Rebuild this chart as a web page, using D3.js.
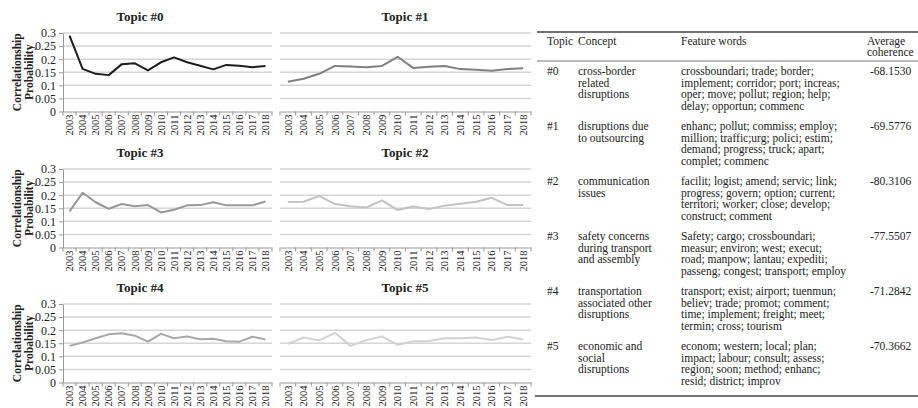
<!DOCTYPE html>
<html>
<head>
<meta charset="utf-8">
<script src="https://cdn.jsdelivr.net/npm/d3@7/dist/d3.min.js"></script>
<style>
  body { margin: 0; background: #fff; }
  svg { font-family: "Liberation Serif", "Times New Roman", serif; }
</style>
</head>
<body>
<svg id="chart" width="918" height="408"></svg>
<script>
// ---- data ----
var years = ["2003", "2004", "2005", "2006", "2007", "2008", "2009", "2010",
  "2011", "2012", "2013", "2014", "2015", "2016", "2017", "2018"]

var yTicks = [0, 0.05, 0.1, 0.15, 0.2, 0.25, 0.3]
var yTickLabels = ["0", "0.05", "0.1", "0.15", "0.2", "0.25", "0.3"]

var topic0 = [0.290, 0.163, 0.144, 0.139, 0.181, 0.184, 0.157, 0.188, 0.207, 0.188, 0.175, 0.161, 0.178, 0.175, 0.169, 0.174]
var topic1 = [0.114, 0.125, 0.144, 0.174, 0.172, 0.169, 0.174, 0.209, 0.166, 0.171, 0.174, 0.162, 0.160, 0.156, 0.162, 0.165]
var topic3 = [0.138, 0.209, 0.173, 0.148, 0.166, 0.158, 0.162, 0.134, 0.144, 0.161, 0.162, 0.173, 0.161, 0.161, 0.161, 0.176]
var topic2 = [0.174, 0.175, 0.197, 0.166, 0.158, 0.153, 0.180, 0.143, 0.157, 0.147, 0.160, 0.167, 0.175, 0.190, 0.162, 0.162]
var topic4 = [0.140, 0.153, 0.169, 0.184, 0.188, 0.179, 0.156, 0.186, 0.169, 0.176, 0.165, 0.167, 0.158, 0.156, 0.175, 0.164]
var topic5 = [0.147, 0.172, 0.161, 0.190, 0.140, 0.162, 0.176, 0.144, 0.158, 0.159, 0.169, 0.169, 0.172, 0.162, 0.175, 0.164]

var panelTitles = ["Topic #0", "Topic #1", "Topic #3", "Topic #2", "Topic #4", "Topic #5"]
var panelSeries = [topic0, topic1, topic3, topic2, topic4, topic5]
var lineColours = ["#1e1e1e", "#808080", "#999999", "#c3c3c3", "#a9a9a9", "#d2d2d2"]

var tableHeader = ["Topic", "Concept", "Feature words", "Average"]
var topicIds = ["#0", "#1", "#2", "#3", "#4", "#5"]
var concepts = [
  ["cross-border", "related", "disruptions"],
  ["disruptions due", "to outsourcing"],
  ["communication", "issues"],
  ["safety concerns", "during transport", "and assembly"],
  ["transportation", "associated other", "disruptions"],
  ["economic and", "social", "disruptions"]
]
var featureWords = [
  ["crossboundari; trade; border;", "implement; corridor; port; increas;", "oper; move; pollut; region; help;", "delay; opportun; commenc"],
  ["enhanc; pollut; commiss; employ;", "million; traffic;urg; polici; estim;", "demand; progress; truck; apart;", "complet; commenc"],
  ["facilit; logist; amend; servic; link;", "progress; govern; option; current;", "territori; worker; close; develop;", "construct; comment"],
  ["Safety; cargo; crossboundari;", "measur; environ; west; execut;", "road; manpow; lantau; expediti;", "passeng; congest; transport; employ"],
  ["transport; exist; airport; tuenmun;", "believ; trade; promot; comment;", "time; implement; freight; meet;", "termin; cross; tourism"],
  ["econom; western; local; plan;", "impact; labour; consult; assess;", "region; soon; method; enhanc;", "resid; district; improv"]
]
var coherence = ["-68.1530", "-69.5776", "-80.3106", "-77.5507", "-71.2842", "-70.3662"]

// ---- layout ----
var svg = d3.select("#chart")
var colX = [[63, 272], [280, 531]]
var colCentre = [140, 405]
var rowTop = [33, 169, 304]
var plotH = 78.5

panelSeries.forEach(function (values, i) {
  var col = i % 2
  var row = Math.floor(i / 2)
  var x0 = colX[col][0], x1 = colX[col][1]
  var top = rowTop[row]

  var x = d3.scaleBand().domain(years).range([x0, x1])
  var y = d3.scaleLinear().domain([0, 0.3]).range([top + plotH, top])

  var g = svg.append("g").attr("class", "panel")

  // gridlines
  g.selectAll(".grid")
    .data(yTicks.slice(1))
    .enter().append("line")
    .attr("class", "grid")
    .attr("x1", x0).attr("x2", x1)
    .attr("y1", d => y(d)).attr("y2", d => y(d))
    .attr("stroke", "#d6d6d6")
    .attr("stroke-width", 1.5)

  // title
  g.append("text")
    .attr("x", colCentre[col])
    .attr("y", top - 12)
    .attr("text-anchor", "middle")
    .style("font-size", "13px")
    .style("font-weight", "bold")
    .attr("fill", "#222")
    .text(panelTitles[i])

  // x axis
  var xAxis = d3.axisBottom(x).tickSize(0).tickSizeOuter(0).tickPadding(0)
  var xg = g.append("g")
    .attr("transform", "translate(0," + (top + plotH) + ")")
    .call(xAxis)
  xg.select(".domain").attr("stroke", "#9a9a9a").attr("stroke-width", 1)
  xg.selectAll("text")
    .attr("transform", "rotate(-90)")
    .attr("x", -3)
    .attr("y", 0)
    .attr("dy", "0.35em")
    .style("text-anchor", "end")
    .style("font-size", "10.5px")
    .style("font-family", "Liberation Serif, serif")
    .attr("fill", "#222")

  xg.selectAll(".btick")
    .data(d3.range(years.length + 1))
    .enter().append("line")
    .attr("class", "btick")
    .attr("x1", d => x0 + d * x.step())
    .attr("x2", d => x0 + d * x.step())
    .attr("y1", 0).attr("y2", 4)
    .attr("stroke", "#9a9a9a")

  // y axis on left column only
  if (col == 0) {
    var yAxis = d3.axisLeft(y).tickValues(yTicks).tickSize(4).tickSizeOuter(0).tickPadding(3)
      .tickFormat(function (d, k) { return yTickLabels[k] })
    var yg = g.append("g")
      .attr("transform", "translate(" + x0 + ",0)")
      .call(yAxis)
    yg.select(".domain").attr("stroke", "#9a9a9a")
    yg.selectAll(".tick line").attr("stroke", "#9a9a9a")
    yg.selectAll("text")
      .style("font-size", "12px")
      .style("font-family", "Liberation Serif, serif")
      .attr("fill", "#222")

    var lab = g.append("text")
      .attr("transform", "translate(0," + (top + plotH / 2) + ") rotate(-90)")
      .attr("text-anchor", "middle")
      .style("font-size", "11.5px")
      .style("font-weight", "bold")
      .attr("fill", "#222")
    lab.append("tspan").attr("x", 0).attr("y", 21).text("Correlationship")
    lab.append("tspan").attr("x", 0).attr("y", 33).text("Probability")
  }

  // the line
  var line = d3.line()
    .x((d, k) => x(years[k]) + x.bandwidth() / 2)
    .y(d => y(d))

  g.append("path")
    .datum(values)
    .attr("d", line)
    .attr("fill", "none")
    .attr("stroke", lineColours[i])
    .attr("stroke-width", 2)
    .attr("stroke-linejoin", "round")
})

// ---- table ----
var tbl = svg.append("g").attr("class", "table")
  .style("font-size", "11.5px")
  .attr("fill", "#222")
var colPos = [547, 578, 681, 867]
var lineH = 11.5

tbl.append("line").attr("x1", 537).attr("x2", 918).attr("y1", 32).attr("y2", 32)
  .attr("stroke", "#444").attr("stroke-width", 1.6)
tbl.append("line").attr("x1", 537).attr("x2", 918).attr("y1", 61).attr("y2", 61)
  .attr("stroke", "#777").attr("stroke-width", 1.2)

tableHeader.forEach(function (h, k) {
  tbl.append("text").attr("x", colPos[k]).attr("y", 45).text(h)
})
tbl.append("text").attr("x", colPos[3]).attr("y", 56).text("coherence")

var rowY = 75
topicIds.forEach(function (t, r) {
  tbl.append("text").attr("x", colPos[0]).attr("y", rowY).text(t)
  concepts[r].forEach(function (s, k) {
    tbl.append("text").attr("x", colPos[1]).attr("y", rowY + k * lineH).text(s)
  })
  featureWords[r].forEach(function (s, k) {
    tbl.append("text").attr("x", colPos[2]).attr("y", rowY + k * lineH).text(s)
  })
  tbl.append("text").attr("x", colPos[3] + 3).attr("y", rowY).text(coherence[r])
  var n = Math.max(concepts[r].length, featureWords[r].length)
  rowY += n * lineH + 9
})

tbl.append("line").attr("x1", 535).attr("x2", 918).attr("y1", 396).attr("y2", 396)
  .attr("stroke", "#444").attr("stroke-width", 1.6)
</script>
</body>
</html>
